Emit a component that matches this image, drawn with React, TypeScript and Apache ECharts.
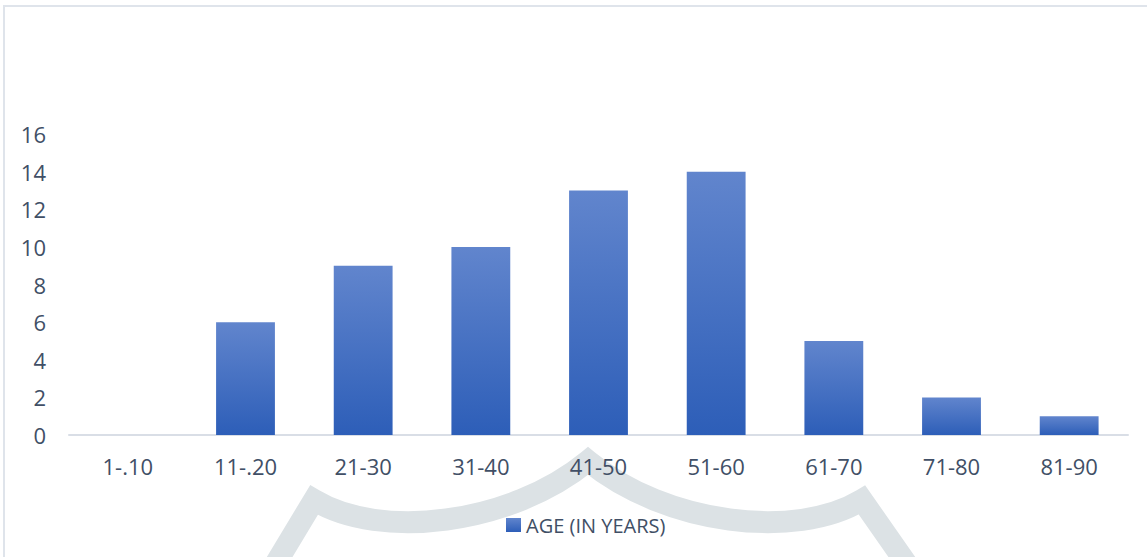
import React, { useEffect, useRef } from "react";
import * as echarts from "echarts";

const categories = ["1-.10", "11-.20", "21-30", "31-40", "41-50", "51-60", "61-70", "71-80", "81-90"];
const counts = [0, 6, 9, 10, 13, 14, 5, 2, 1];
const seriesName = "AGE (IN YEARS)";
const yTicks = { min: 0, max: 16, interval: 2 };

// Decorative grey arch drawn behind the lower part of the chart
echarts.graphic.registerShape(
  "logo",
  echarts.graphic.extendPath(
    "M264,583 L314,500 C380,540 510,525 588,461 C666,525 796,540 862,500 L920,583",
    {}
  )
);

const TEXT = "#414f66";
const FONT = "'Open Sans', 'Noto Sans', sans-serif";

export default function App() {
  const ref = useRef<HTMLDivElement>(null);

  useEffect(() => {
    document.body.style.margin = "0";
    const chart = echarts.init(ref.current!, undefined, { renderer: "svg" });
    chart.setOption({
      animation: false,
      backgroundColor: "#ffffff",
      textStyle: { fontFamily: FONT, color: TEXT },
      grid: { left: 69, right: 19, top: 134, bottom: 122, containLabel: false },
      graphic: [
        {
          type: "rect",
          z: -20,
          silent: true,
          shape: { x: 4, y: 6, width: 1300, height: 700 },
          style: { fill: "none", stroke: "#dfe4eb", lineWidth: 2 },
        },
        {
          type: "logo",
          z: -20,
          silent: true,
          x: 0,
          y: 0,
          style: { fill: "none", stroke: "#dce2e5", lineWidth: 22, lineJoin: "miter", miterLimit: 10 },
        },
      ],
      legend: {
        show: true,
        left: 501,
        top: 510,
        itemWidth: 15,
        itemHeight: 14,
        itemGap: 10,
        icon: "rect",
        textStyle: { fontFamily: FONT, fontSize: 20, color: TEXT },
        data: [seriesName],
      },
      xAxis: {
        type: "category",
        data: categories,
        axisLine: { show: true, lineStyle: { color: "#d9dee6", width: 2 } },
        axisTick: { show: false },
        axisLabel: { fontFamily: FONT, fontSize: 22, color: TEXT, margin: 20 },
        splitLine: { show: false },
      },
      yAxis: {
        type: "value",
        min: yTicks.min,
        max: yTicks.max,
        interval: yTicks.interval,
        axisLine: { show: false },
        axisTick: { show: false },
        splitLine: { show: false },
        axisLabel: { fontFamily: FONT, fontSize: 22, color: TEXT, margin: 23 },
      },
      series: [
        {
          name: seriesName,
          type: "bar",
          data: counts,
          barWidth: "50%",
          itemStyle: {
            color: new echarts.graphic.LinearGradient(0, 0, 0, 1, [
              { offset: 0, color: "#6185cd" },
              { offset: 1, color: "#2d5eb8" },
            ]),
          },
        },
      ],
    });
    return () => chart.dispose();
  }, []);

  return <div ref={ref} style={{ width: 1147, height: 557 }} />;
}
